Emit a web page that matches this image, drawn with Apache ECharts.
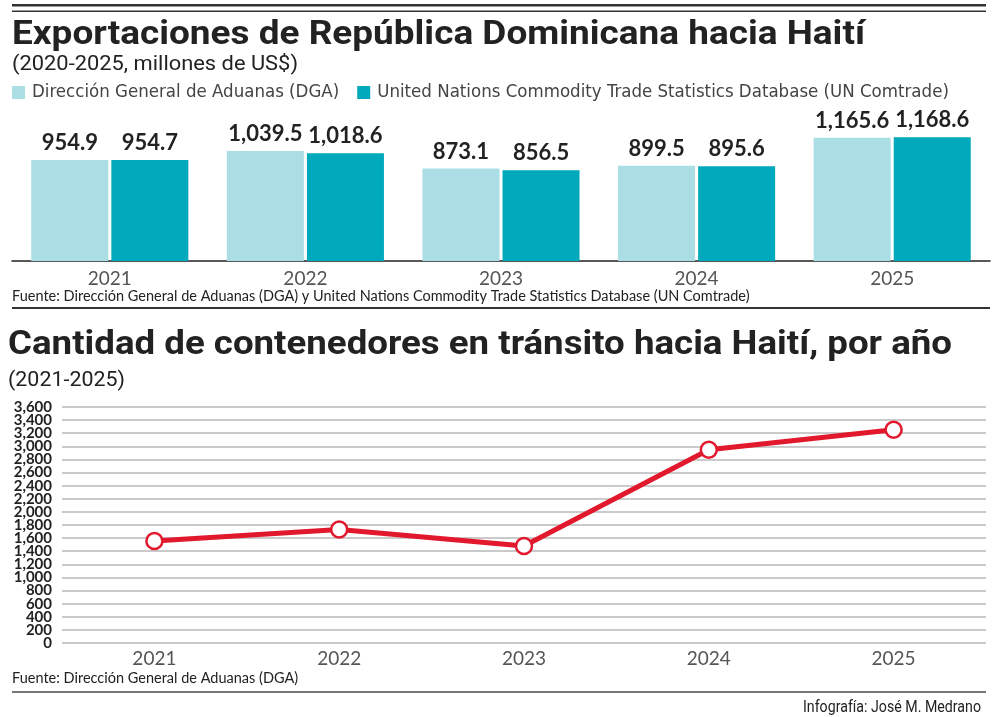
<!DOCTYPE html>
<html>
<head>
<meta charset="utf-8">
<script src="https://cdn.jsdelivr.net/npm/echarts@6/dist/echarts.min.js"></script>
<style>
  html, body { margin: 0; padding: 0; background: #fff; }
  #chart { width: 1000px; height: 717px; }
</style>
</head>
<body>
<div id="chart"></div>
<script>
// exports, millions US$
const years = ['2021', '2022', '2023', '2024', '2025'];
const dgaValues = [954.9, 1039.5, 873.1, 899.5, 1165.6];
const comtradeValues = [954.7, 1018.6, 856.5, 895.6, 1168.6];

// containers in transit to Haiti
const containerYears = ['2021', '2022', '2023', '2024', '2025'];
const containers = [1555, 1732, 1480, 2947, 3252];
const containerMax = 3600;
const containerStep = 200;

const condensed = "'DejaVu Sans Condensed', sans-serif";
const plain = "Lato, 'Open Sans', sans-serif";

const fmt1 = v => v.toLocaleString('en-US', { minimumFractionDigits: 1, maximumFractionDigits: 1 });
const fmt0 = v => v.toLocaleString('en-US');

// the original uses a condensed face; squeeze a normal one to the same width
const measureCtx = document.createElement('canvas').getContext('2d');
function squeezed(text, font, x, y, width, align) {
    measureCtx.font = font;
    const w = measureCtx.measureText(text).width;
    return {
        type: 'text', x: x, y: y, scaleX: width / w, silent: true,
        style: { text: text, font: font, fill: '#222', align: align || 'left', verticalAlign: 'middle' }
    };
}

const yLabel = { margin: 10, fontFamily: plain, fontWeight: 'bold', fontSize: 15, color: '#222', formatter: fmt0 };
const barLabel = { show: true, position: 'top', distance: 6, fontFamily: plain, fontWeight: 'bold', fontSize: 22, color: '#222', formatter: p => fmt1(p.value) };

const chart = echarts.init(document.getElementById('chart'));

const option = {
    animation: false,
    backgroundColor: '#fff',
    title: [{
        text: 'Fuente: Dirección General de Aduanas (DGA) y United Nations Commodity Trade Statistics Database (UN Comtrade)',
        left: 12, top: 289, padding: 0,
        textStyle: { fontFamily: plain, fontWeight: 'normal', fontSize: 14.5, color: '#222' }
    }, {
        text: 'Fuente: Dirección General de Aduanas (DGA)',
        left: 12, top: 671, padding: 0,
        textStyle: { fontFamily: plain, fontWeight: 'normal', fontSize: 14.5, color: '#222' }
    }],
    legend: {
        left: 12, top: 83, padding: 0,
        icon: 'rect', itemWidth: 13, itemHeight: 13, itemGap: 18,
        textStyle: { fontFamily: condensed, fontSize: 18.5, color: '#444', padding: [0, 0, 0, 2] },
        data: ['Dirección General de Aduanas (DGA)', 'United Nations Commodity Trade Statistics Database (UN Comtrade)']
    },
    graphic: [
        { type: 'rect', shape: { x: 12, y: 4, width: 974, height: 2.5 }, style: { fill: '#333' } },
        { type: 'rect', shape: { x: 12, y: 10.5, width: 974, height: 1.5 }, style: { fill: '#333' } },
        { type: 'rect', shape: { x: 12, y: 307, width: 978, height: 2 }, style: { fill: '#333' } },
        { type: 'rect', shape: { x: 12, y: 691, width: 974, height: 2 }, style: { fill: '#777' } },
        squeezed('Exportaciones de República Dominicana hacia Haití', 'bold 34px Roboto', 12, 35, 853),
        squeezed('(2020-2025, millones de US$)', '21px Roboto', 12, 65, 286),
        squeezed('Cantidad de contenedores en tránsito hacia Haití, por año', 'bold 34px Roboto', 8, 345, 944),
        squeezed('(2021-2025)', '21px Roboto', 8, 381, 117),
        squeezed('Infografía: José M. Medrano', '17px Roboto', 981, 708, 178, 'right')
    ],
    grid: [
        { left: 12, right: 10, top: 134, bottom: 456 },
        { left: 62, right: 14, top: 407, bottom: 74 }
    ],
    xAxis: [{
        type: 'category', gridIndex: 0, data: years,
        axisLine: { lineStyle: { color: '#222', width: 1.5 } },
        axisTick: { show: false },
        axisLabel: { margin: 8, fontFamily: plain, fontSize: 19, color: '#555' }
    }, {
        type: 'category', gridIndex: 1, data: containerYears,
        axisLine: { show: false },
        axisTick: { show: false },
        axisLabel: { margin: 6, fontFamily: plain, fontSize: 19, color: '#555' }
    }],
    yAxis: [{
        type: 'value', gridIndex: 0, min: 0, max: 1200, show: false
    }, {
        // inner ticks; the end labels come from the axis below so none get dropped
        type: 'value', gridIndex: 1, min: 0, max: containerMax, interval: containerStep,
        axisLine: { show: false }, axisTick: { show: false },
        splitLine: { lineStyle: { color: '#b8b8b8', width: 1.5 } },
        axisLabel: Object.assign({ showMinLabel: false, showMaxLabel: false }, yLabel)
    }, {
        type: 'value', gridIndex: 1, position: 'left', min: 0, max: containerMax, interval: containerMax,
        axisLine: { show: false }, axisTick: { show: false }, splitLine: { show: false },
        axisLabel: Object.assign({ showMinLabel: true, showMaxLabel: true }, yLabel)
    }],
    series: [{
        name: 'Dirección General de Aduanas (DGA)',
        type: 'bar', xAxisIndex: 0, yAxisIndex: 0,
        data: dgaValues, barWidth: 77, barGap: '4%',
        itemStyle: { color: '#aadde4' },
        label: barLabel
    }, {
        name: 'United Nations Commodity Trade Statistics Database (UN Comtrade)',
        type: 'bar', xAxisIndex: 0, yAxisIndex: 0,
        data: comtradeValues, barWidth: 77,
        itemStyle: { color: '#00a9bb' },
        label: barLabel
    }, {
        name: 'Contenedores',
        type: 'line', xAxisIndex: 1, yAxisIndex: 1,
        data: containers,
        lineStyle: { color: '#e2182d', width: 5 },
        itemStyle: { color: '#fff', borderColor: '#e2182d', borderWidth: 2.5 },
        symbol: 'circle', symbolSize: 16, showAllSymbol: true
    }]
};

chart.setOption(option);
</script>
</body>
</html>
